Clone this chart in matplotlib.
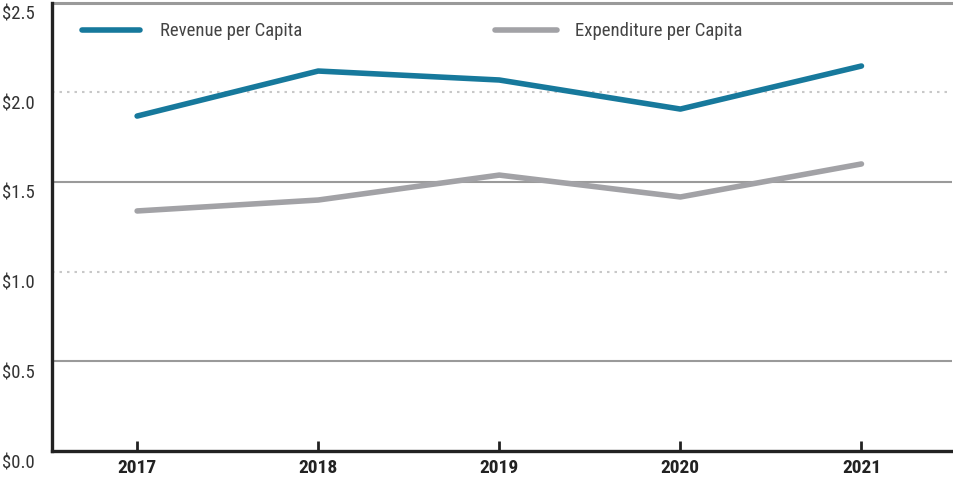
import matplotlib
matplotlib.use("Agg")
import matplotlib.pyplot as plt
from matplotlib.lines import Line2D
from matplotlib import font_manager
import matplotlib.transforms as mtrans

years = ["2017", "2018", "2019", "2020", "2021"]
revenue = [1.867, 2.118, 2.068, 1.906, 2.146]
expenditure = [1.338, 1.399, 1.538, 1.416, 1.600]
ytick_vals = [0.0, 0.5, 1.0, 1.5, 2.0, 2.5]
ytick_labels = ["$0.0", "$0.5", "$1.0", "$1.5", "$2.0", "$2.5"]

names = {f.name for f in font_manager.fontManager.ttflist}
fam = "DejaVu Sans"
for cand in ["Roboto Condensed", "Liberation Sans Narrow", "Open Sans Condensed",
             "Noto Sans Condensed", "DejaVu Sans Condensed", "Roboto"]:
    if cand in names:
        fam = cand
        break
plt.rcParams["font.family"] = [fam, "DejaVu Sans"]
stretch = "condensed"

W, H = 954, 485
fig = plt.figure(figsize=(W / 100, H / 100), dpi=100)
ax = fig.add_axes([52 / W, 33 / H, 900 / W, 448.5 / H])

blue = "#17799c"
gray = "#a2a2a6"

x = list(range(len(years)))
ax.plot(x, revenue, color=blue, lw=4.0, solid_capstyle="round", solid_joinstyle="round", zorder=3)
ax.plot(x, expenditure, color=gray, lw=4.0, solid_capstyle="round", solid_joinstyle="round", zorder=3)

ax.set_xlim(-0.47, 4.5)
ax.set_ylim(0, 2.5)

for v in [0.5, 1.5]:
    ax.axhline(v, color="#9a9a9a", lw=1.5, zorder=1)
for v in [1.0, 2.0]:
    ax.axhline(v, color="#c8c8c8", lw=1.5, ls=(0, (1.2, 2.4)), zorder=1)
ax.axhline(2.5, color="#9a9a9a", lw=2.2, zorder=1, clip_on=False)

for s in ["top", "right"]:
    ax.spines[s].set_visible(False)
for s in ["left", "bottom"]:
    ax.spines[s].set_color("#222222")
    ax.spines[s].set_linewidth(2.4)

ax.set_xticks(x)
ax.set_xticklabels(years, fontsize=14, color="#222222", fontweight="bold", fontstretch=stretch)
ax.tick_params(axis="x", direction="in", length=7, width=2, color="#222222", pad=5)
ax.set_yticks(ytick_vals)
ax.set_yticklabels(ytick_labels, fontsize=13.5, color="#333333", fontstretch=stretch)
ax.tick_params(axis="y", length=0, pad=0)
offset = mtrans.ScaledTranslation(0, -1.5 / 72, fig.dpi_scale_trans)
for lbl in ax.get_yticklabels():
    lbl.set_horizontalalignment("left")
    lbl.set_verticalalignment("top")
    lbl.set_x(-50 / 900)
    lbl.set_transform(lbl.get_transform() + offset)

ly = 1 - 31 / H
fig.add_artist(Line2D([82 / W, 140 / W], [ly, ly], color=blue, lw=4.0, solid_capstyle="round"))
fig.text(160 / W, ly, "Revenue per Capita", fontsize=13.5, color="#444444", va="center", fontstretch=stretch)
fig.add_artist(Line2D([495 / W, 557 / W], [ly, ly], color=gray, lw=4.0, solid_capstyle="round"))
fig.text(575 / W, ly, "Expenditure per Capita", fontsize=13.5, color="#444444", va="center", fontstretch=stretch)

fig.savefig("out.png", dpi=100)
